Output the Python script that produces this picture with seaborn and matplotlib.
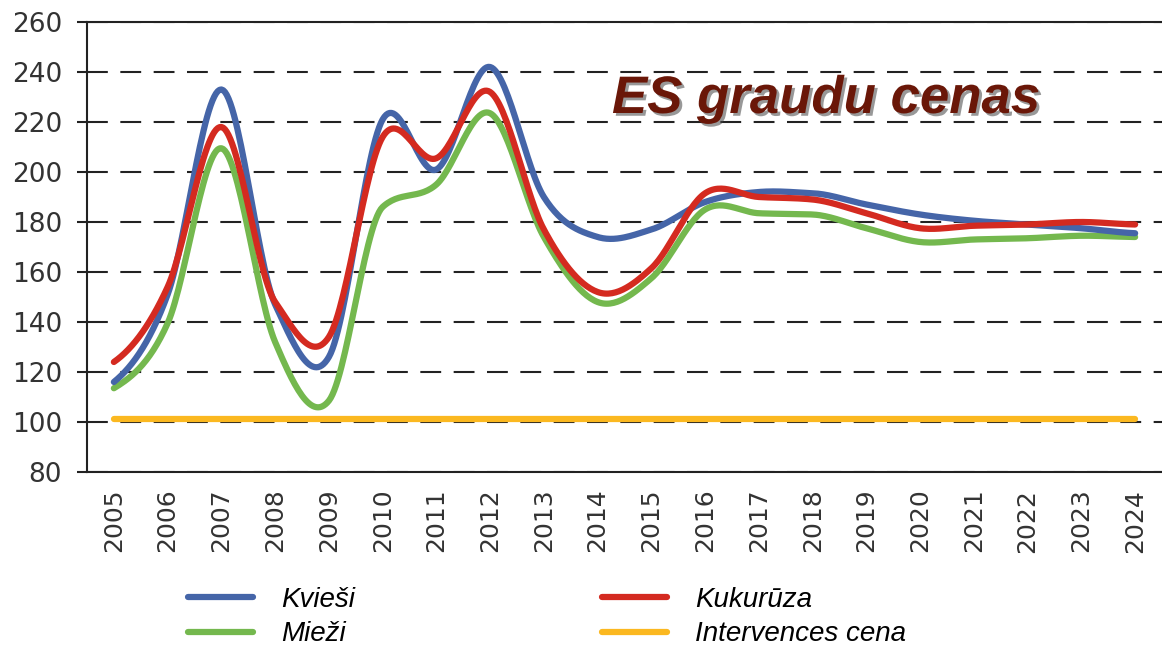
import numpy as np, pandas as pd
import matplotlib
matplotlib.use("Agg")
import matplotlib.pyplot as plt
import matplotlib.patheffects as pe
import seaborn as sns

sns.set_style("white")
plt.rcParams["font.family"] = ["DejaVu Sans"]

YEARS = [str(y) for y in range(2005, 2025)]
KVIESI = [116, 151, 233, 147, 126, 221, 201, 242, 190, 174,
          177, 188, 192, 191.5, 187, 183, 180.5, 179, 177.5, 175.5]
MIEZI = [113.5, 139.5, 209.5, 132, 108.5, 186, 195, 223.5, 174, 148,
         157.5, 185, 183.5, 183, 177.5, 172, 173, 173.5, 174.5, 174]
KUKURUZA = [124, 154, 218, 148, 134, 214, 205.5, 232, 177, 152,
            161.5, 191.5, 190, 189, 183.5, 177.5, 178.5, 179, 180, 179]
INTERVENCES = [101.3] * len(YEARS)

NAMES = ["Kvieši", "Mieži", "Kukurūza", "Intervences cena"]
COLORS = {"Kvieši": "#4565A8", "Mieži": "#74B84E",
          "Kukurūza": "#D42A20", "Intervences cena": "#FBB820"}


def smooth(vals, n=30):
    # smoothed line like Excel: Catmull-Rom tangents, clipped so short steps don't bulge
    y = np.asarray(vals, float)
    d = np.diff(y)
    m = np.empty_like(y)
    m[0], m[-1] = d[0] / 2, d[-1] / 2
    for i in range(1, len(y) - 1):
        m[i] = (d[i - 1] + d[i]) / 2
        if d[i - 1] * d[i] > 0:
            lim = 2.2 * min(abs(d[i - 1]), abs(d[i]))
            m[i] = np.sign(m[i]) * min(abs(m[i]), lim)
    t = np.linspace(0, 1, n, endpoint=False)
    xs, ys = [], []
    for i in range(len(y) - 1):
        b = [y[i], y[i] + m[i] / 3, y[i + 1] - m[i + 1] / 3, y[i + 1]]
        ys.append((1 - t) ** 3 * b[0] + 3 * (1 - t) ** 2 * t * b[1] + 3 * (1 - t) * t ** 2 * b[2] + t ** 3 * b[3])
        xs.append(i + t)
    return np.r_[np.concatenate(xs), len(y) - 1], np.r_[np.concatenate(ys), y[-1]]


rows = []
for name, vals in zip(NAMES, [KVIESI, MIEZI, KUKURUZA, INTERVENCES]):
    sx, sy = smooth(vals)
    rows.append(pd.DataFrame({"x": sx, "cena": sy, "serie": name}))
df = pd.concat(rows, ignore_index=True)

fig = plt.figure(figsize=(11.62, 6.5), dpi=100)
ax = fig.add_axes([87 / 1162, 1 - 472 / 650, (1162 - 87) / 1162, (472 - 22) / 650])

sns.lineplot(data=df, x="x", y="cena", hue="serie", hue_order=["Mieži", "Kvieši", "Kukurūza", "Intervences cena"],
             palette=COLORS, linewidth=4.5, sort=False, estimator=None, ax=ax)

ax.set_xlim(-0.5, 19.5); ax.set_ylim(80, 260)
ax.set_yticks(range(80, 261, 20))
ax.set_xticks(range(len(YEARS)))
ax.set_xticklabels(YEARS, rotation=90, fontsize=18, color="#333333")
ax.set_xticks(np.arange(-0.5, 20, 1), minor=True)
ax.tick_params(axis="x", which="major", length=0, pad=12)
ax.tick_params(axis="x", which="minor", length=7, width=1.5, color="#222222", direction="out")
ax.tick_params(axis="y", length=7, width=1.5, color="#222222", labelsize=19, labelcolor="#333333", pad=11,
               left=True)
ax.set_xlabel(""); ax.set_ylabel("")
ax.grid(axis="y", color="#222222", lw=1.5, ls=(0, (10, 6)))
ax.set_axisbelow(True)
for s in ["left", "bottom", "top"]:
    ax.spines[s].set_color("#222222"); ax.spines[s].set_linewidth(1.5)
ax.spines["right"].set_visible(False)

# legend below the chart, two columns
handles, labels = ax.get_legend_handles_labels()
hmap = dict(zip(labels, handles))
leg = ax.legend([hmap[n] for n in NAMES], NAMES, loc="upper left", bbox_to_anchor=(188 / 1162, 1 - 587 / 650),
                bbox_transform=fig.transFigure, ncol=2, frameon=False, borderpad=0, borderaxespad=0,
                handlelength=2.35, handletextpad=1.0, columnspacing=8.9, labelspacing=0.3,
                prop={"family": "Liberation Sans", "style": "italic", "size": 20})
for t in leg.get_texts():
    t.set_color("black")

fig.text(612 / 1162, 1 - 113 / 650, "ES graudu cenas", ha="left", va="baseline",
         fontsize=38, fontweight="bold", fontstyle="italic", family="Liberation Sans", color="#6A1708",
         path_effects=[pe.withSimplePatchShadow(offset=(2, -2), shadow_rgbFace="#444444", alpha=0.55)])

fig.savefig("out.png", dpi=100)
